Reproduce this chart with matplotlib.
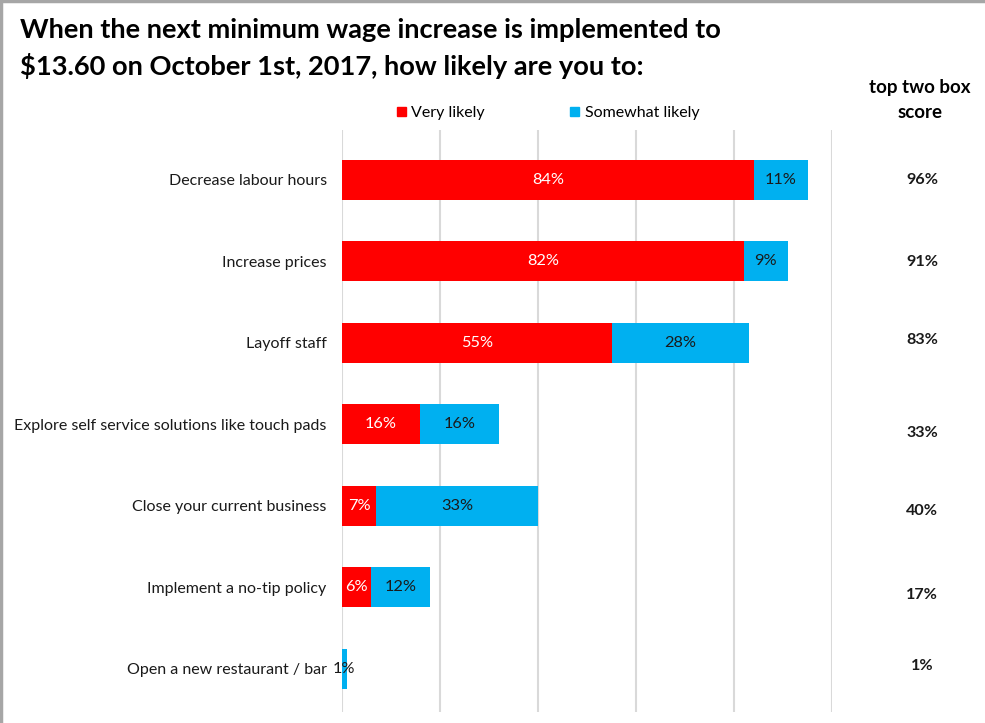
import matplotlib
matplotlib.use("Agg")
import matplotlib.pyplot as plt
from matplotlib.lines import Line2D
from matplotlib.patches import Patch
from matplotlib.transforms import blended_transform_factory

categories = [
    "Decrease labour hours",
    "Increase prices",
    "Layoff staff",
    "Explore self service solutions like touch pads",
    "Close your current business",
    "Implement a no-tip policy",
    "Open a new restaurant / bar",
]
very_likely = [84, 82, 55, 16, 7, 6, 0]
somewhat_likely = [11, 9, 28, 16, 33, 12, 1]
top_two_box = [96, 91, 83, 33, 40, 17, 1]
top_two_offsets = [0.0, 0.01, -0.04, 0.10, 0.06, 0.10, -0.03]
x_ticks = [0, 20, 40, 60, 80, 100]

RED = "#FF0000"
BLUE = "#00B0F0"
plt.rcParams["font.family"] = ["Lato", "DejaVu Sans"]

fig = plt.figure(figsize=(9.85, 7.23), dpi=100)
W, H = 985, 723
ax = fig.add_axes([342 / W, 1 - 712 / H, 490 / W, (712 - 130) / H])

y = list(range(len(categories)))
ax.barh(y, very_likely, height=0.49, color=RED, label="Very likely")
ax.barh(y, somewhat_likely, left=very_likely, height=0.49, color=BLUE, label="Somewhat likely")

for i, (v, s) in enumerate(zip(very_likely, somewhat_likely)):
    if v > 0:
        ax.text(v / 2, i, f"{v}%", ha="center", va="center", color="white", fontsize=11.8)
    if s > 0:
        ax.text(v + s / 2, i, f"{s}%", ha="center", va="center", color="#1a1a1a", fontsize=11.8)

ax.set_xlim(0, 100)
ax.set_ylim(6.53, -0.613)
ax.set_xticks(x_ticks)
ax.xaxis.grid(True, color="#D9D9D9", linewidth=1.5)
ax.set_axisbelow(True)
ax.tick_params(axis="x", length=0, labelbottom=False)
ax.tick_params(axis="y", length=0, pad=11)
ax.set_yticks(y)
ax.set_yticklabels(categories, fontsize=11.5, color="#1a1a1a")
for sp in ax.spines.values():
    sp.set_visible(False)

# top two box scores
tr = blended_transform_factory(fig.transFigure, ax.transData)
for i, (t, off) in enumerate(zip(top_two_box, top_two_offsets)):
    ax.text(922 / W, i + off, f"{t}%", transform=tr,
            ha="center", va="center", fontsize=11.6, fontweight="bold", color="#1a1a1a")

fig.text(920 / W, 1 - 88 / H, "top two box", ha="center", va="center", fontsize=13.5, fontweight="bold")
fig.text(920 / W, 1 - 113 / H, "score", ha="center", va="center", fontsize=13.5, fontweight="bold")

fig.text(20 / W, 1 - 30 / H, "When the next minimum wage increase is implemented to",
         ha="left", va="center", fontsize=19.6, fontweight="bold")
fig.text(20 / W, 1 - 66 / H, "$13.60 on October 1st, 2017, how likely are you to:",
         ha="left", va="center", fontsize=19.6, fontweight="bold")

handles = [Patch(color=RED), Patch(color=BLUE)]
leg = fig.legend(handles, ["Very likely", "Somewhat likely"], loc="center",
                 bbox_to_anchor=(548 / W, 1 - 113 / H), ncol=2, frameon=False,
                 fontsize=11.5, handlelength=0.55, handleheight=0.55, handletextpad=0.35,
                 columnspacing=5.35)

# figure border (top and left)
fig.add_artist(Line2D([0, 1], [1 - 1 / H, 1 - 1 / H], transform=fig.transFigure, color="#A6A6A6", linewidth=2.5))
fig.add_artist(Line2D([1 / W, 1 / W], [0, 1], transform=fig.transFigure, color="#A6A6A6", linewidth=2.5))

fig.savefig("out.png", dpi=100)
